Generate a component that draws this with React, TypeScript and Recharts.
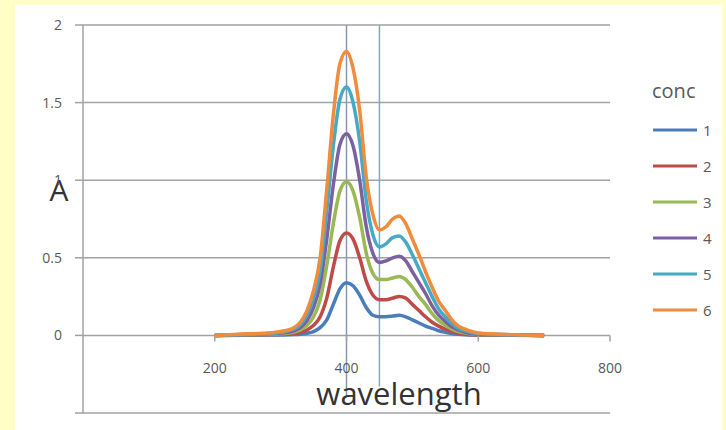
import React from 'react';
import { LineChart, Line, XAxis, YAxis, CartesianGrid, ReferenceLine, Legend, Label } from 'recharts';

const wavelengths = [200, 250, 280, 300, 320, 330, 340, 350, 360, 370, 380, 390, 400, 410, 420, 430, 440, 450, 460, 470, 480, 490, 500, 510, 520, 530, 540, 550, 560, 570, 580, 600, 650, 700];

const conc1 = [0, 0.001, 0.002, 0.003, 0.005, 0.008, 0.014, 0.025, 0.05, 0.1, 0.2, 0.3, 0.34, 0.32, 0.26, 0.18, 0.13, 0.12, 0.12, 0.125, 0.13, 0.12, 0.1, 0.08, 0.06, 0.045, 0.03, 0.02, 0.012, 0.007, 0.004, 0.002, 0.001, 0];
const conc2 = [0, 0.003, 0.005, 0.007, 0.012, 0.02, 0.035, 0.065, 0.12, 0.24, 0.44, 0.61, 0.66, 0.62, 0.5, 0.35, 0.26, 0.23, 0.23, 0.24, 0.25, 0.24, 0.2, 0.16, 0.12, 0.085, 0.06, 0.04, 0.025, 0.015, 0.008, 0.003, 0.001, 0];
const conc3 = [0, 0.004, 0.007, 0.01, 0.02, 0.035, 0.065, 0.12, 0.23, 0.45, 0.72, 0.93, 0.99, 0.93, 0.76, 0.53, 0.4, 0.36, 0.36, 0.37, 0.38, 0.36, 0.31, 0.25, 0.2, 0.14, 0.095, 0.065, 0.04, 0.025, 0.015, 0.006, 0.002, 0];
const conc4 = [0, 0.006, 0.01, 0.015, 0.03, 0.05, 0.095, 0.18, 0.33, 0.62, 0.97, 1.23, 1.3, 1.22, 1.0, 0.7, 0.53, 0.47, 0.48, 0.5, 0.51, 0.48, 0.41, 0.34, 0.27, 0.19, 0.13, 0.09, 0.055, 0.035, 0.02, 0.008, 0.003, 0];
const conc5 = [0, 0.008, 0.012, 0.02, 0.04, 0.07, 0.13, 0.24, 0.42, 0.8, 1.22, 1.52, 1.6, 1.5, 1.25, 0.87, 0.65, 0.57, 0.59, 0.63, 0.64, 0.6, 0.52, 0.43, 0.34, 0.25, 0.17, 0.12, 0.075, 0.045, 0.03, 0.012, 0.004, 0];
const conc6 = [0, 0.01, 0.015, 0.025, 0.05, 0.085, 0.16, 0.29, 0.5, 0.94, 1.42, 1.75, 1.83, 1.72, 1.45, 1.02, 0.78, 0.68, 0.7, 0.75, 0.77, 0.72, 0.62, 0.52, 0.41, 0.31, 0.22, 0.16, 0.1, 0.06, 0.04, 0.015, 0.005, 0];

const seriesNames = ['1', '2', '3', '4', '5', '6'];
const seriesColors = ['#4A7EBB', '#BE4B48', '#98B954', '#7D60A0', '#46AAC5', '#F08C3C'];
const seriesValues = [conc1, conc2, conc3, conc4, conc5, conc6];

const xTicks = [0, 200, 400, 600, 800];
const yTicks = [-0.5, 0, 0.5, 1, 1.5, 2];
const markerLines = [
  { x: 400, yEnd: -0.4, color: '#8796B4' },
  { x: 450, yEnd: -0.33, color: '#84A3D6' },
];

const data = wavelengths.map((w, i) => {
  const row: Record<string, number> = { w };
  seriesValues.forEach((vals, k) => {
    row['c' + (k + 1)] = vals[i];
  });
  return row;
});

const FONT = '"Open Sans", "DejaVu Sans", sans-serif';
const GRID = '#a2a2a2';
const TEXT = '#595959';

const Y_MIN = -0.5;
const Y_MAX = 2;
const PLOT_TOP = 25;
const PLOT_BOTTOM = 413;
const ZERO_OFFSET = ((PLOT_BOTTOM - PLOT_TOP) * (0 - Y_MIN)) / (Y_MAX - Y_MIN);
const LEGEND_W = 74;

const XTick = (props: any) => {
  const { x, y, payload } = props;
  const y0 = y - ZERO_OFFSET;
  if (payload.value === 0) return <g />;
  return (
    <g>
      <line x1={x} x2={x} y1={y0} y2={y0 + 6} stroke={GRID} strokeWidth={1.5} />
      <text x={x} y={y0 + 38} textAnchor="middle" fill={TEXT} fontSize={14} fontFamily={FONT}>
        {payload.value}
      </text>
    </g>
  );
};

const renderLegend = (props: any) => {
  const payload = props.payload || [];
  return (
    <div style={{ fontFamily: FONT, color: TEXT }}>
      <div style={{ fontSize: 20, height: 42, lineHeight: '42px' }}>conc</div>
      {payload.map((p: any, i: number) => (
        <div key={i} style={{ display: 'flex', alignItems: 'center', height: 36 }}>
          <svg width={46} height={6} style={{ marginLeft: 1 }}>
            <line x1={0} x2={44} y1={3} y2={3} stroke={p.color} strokeWidth={3} />
          </svg>
          <span style={{ fontSize: 15, marginLeft: 4, lineHeight: '36px' }}>{p.value}</span>
        </div>
      ))}
    </div>
  );
};

export default function App() {
  return (
    <div style={{ position: 'absolute', left: 0, top: 0, width: 726, height: 430, background: '#FFFEC6', overflow: 'hidden' }}>
      <div style={{ position: 'absolute', left: 15, top: 5, width: 707, height: 425, background: '#ffffff' }} />
      <div style={{ position: 'absolute', left: 0, top: 0 }}>
        <LineChart width={726} height={430} data={data} margin={{ top: PLOT_TOP, right: 116 - LEGEND_W, bottom: 0, left: 23 }}>
          <CartesianGrid horizontal vertical={false} stroke={GRID} strokeWidth={1.5} />
          <XAxis
            dataKey="w"
            type="number"
            domain={[0, 800]}
            ticks={xTicks}
            interval={0}
            axisLine={false}
            tickLine={false}
            tickSize={0}
            tickMargin={0}
            height={17}
            tick={<XTick />}
          >
            <Label
              content={() => (
                <text x={399} y={405} textAnchor="middle" fill="#333333" fontSize={31} fontFamily={FONT}>
                  wavelength
                </text>
              )}
            />
          </XAxis>
          <YAxis
            type="number"
            domain={[Y_MIN, Y_MAX]}
            ticks={yTicks}
            interval={0}
            width={60}
            axisLine={{ stroke: GRID, strokeWidth: 1.5 }}
            tickLine={{ stroke: GRID, strokeWidth: 1.5 }}
            tickSize={8}
            tickMargin={13}
            tick={{ fill: TEXT, fontSize: 14, fontFamily: FONT }}
            tickFormatter={(v: number) => (v < 0 ? '' : String(v))}
          >
            <Label
              content={() => (
                <text x={59} y={201} textAnchor="middle" fill="#333333" fontSize={30} fontFamily={FONT}>
                  A
                </text>
              )}
            />
          </YAxis>
          {markerLines.map((m) => (
            <ReferenceLine
              key={m.x}
              segment={[{ x: m.x, y: Y_MAX }, { x: m.x, y: m.yEnd }]}
              stroke={m.color}
              strokeWidth={1.5}
            />
          ))}
          {seriesNames.map((name, k) => (
            <Line
              key={name}
              type="monotone"
              dataKey={'c' + (k + 1)}
              name={name}
              stroke={seriesColors[k]}
              strokeWidth={3.5}
              dot={false}
              activeDot={false}
              isAnimationActive={false}
            />
          ))}
          <Legend
            layout="horizontal"
            verticalAlign="middle"
            align="right"
            wrapperStyle={{ left: 652, top: 70, width: LEGEND_W }}
            content={renderLegend}
          />
        </LineChart>
      </div>
    </div>
  );
}
